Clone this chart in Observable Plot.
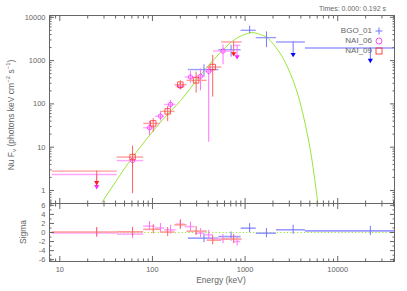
<!DOCTYPE html>
<html><head><meta charset="utf-8">
<script src="https://cdn.jsdelivr.net/npm/d3@7"></script>
<script src="https://cdn.jsdelivr.net/npm/@observablehq/plot@0.6"></script>
<style>
body{margin:0;background:#fff;font-family:"Liberation Sans",Arial,sans-serif;color:#666}
#wrap{position:relative;width:407px;height:291px;overflow:hidden;background:#fff}
#wrap svg.p{position:absolute;left:0}
.t{position:absolute;white-space:nowrap;color:#666;line-height:1}
.t svg{display:block}
</style></head><body><div id="wrap"></div>
<script>
// ---------- data ----------
// BGO_01
const bgoE   = [360, 706, 1120, 1700, 3300, 22500];
const bgoELo = [244, 520, 906, 1320, 2180, 4480];
const bgoEHi = [520, 906, 1320, 2180, 4480, 41000];
const bgoF   = [620, 1780, 5000, 3390, 2690, 1950];
const bgoFLo = [420, 1200, 4190, 1990, 1320, 965];
const bgoFHi = [800, 2250, 6220, 4600, 2690, 1950];
const bgoUL  = [0, 0, 0, 0, 1, 1];
const bgoRes = [-1.25, -0.9, 0.95, -0.15, 0.6, 0.35];
// NAI_06
const n06E   = [25, 61, 93, 122, 157, 200, 257, 330, 405, 578, 820];
const n06ELo = [8.3, 41.6, 80.5, 108, 135, 180, 225, 290, 370, 456, 752];
const n06EHi = [41.6, 80.5, 108, 135, 180, 225, 290, 370, 456, 752, 900];
const n06F   = [2.34, 4.9, 28.1, 52, 97, 256, 417, 433, 564, 1660, 2250];
const n06FLo = [1.17, 3.0, 18.7, 40, 78, 215, 300, 200, 13, 800, 1170];
const n06FHi = [2.34, 7.0, 39.4, 65, 120, 300, 560, 640, 710, 2300, 2250];
const n06UL  = [1, 0, 0, 0, 0, 0, 0, 0, 0, 0, 1];
const n06Res = [-0.1, -0.35, 1.4, 1.0, 0.6, 1.85, 1.3, -0.15, -0.5, -1.45, -2.0];
// NAI_09
const n09E   = [25, 61, 102, 146, 200, 296, 447, 753];
const n09ELo = [8.3, 41.6, 80.5, 122, 175, 236, 389, 560];
const n09EHi = [41.6, 80.5, 122, 175, 236, 389, 560, 930];
const n09F   = [2.8, 5.9, 35.4, 67, 278, 349, 710, 2690];
const n09FLo = [1.45, 0.84, 22, 39, 210, 178, 143, 1370];
const n09FHi = [2.8, 10.6, 45.5, 87.5, 340, 542, 1320, 2690];
const n09UL  = [1, 0, 0, 0, 0, 0, 0, 1];
const n09Res = [0.1, 0.15, 0.7, 0.1, 1.7, 0.3, -1.7, -1.45];
// model curve
const modelE = [28.6, 60.8, 127, 202, 389, 694, 889, 1190, 1462, 1726, 2400, 3080, 3640, 4290, 5070, 5730, 6070];
const modelF = [0.537, 5.79, 41.5, 120, 709, 2550, 3640, 4430, 4000, 3390, 1449, 501, 188, 49.5, 8.4, 1.43, 0.537];
// ticks
const xMajor = [10, 100, 1000, 10000];
const xMinor = [8, 9, 20, 30, 40, 50, 60, 70, 80, 90, 200, 300, 400, 500, 600, 700, 800, 900,
                2000, 3000, 4000, 5000, 6000, 7000, 8000, 9000, 20000, 30000, 40000];
const yMajor = [1, 10, 100, 1000, 10000];
const yMinor = [0.5, 0.6, 0.7, 0.8, 0.9, 2, 3, 4, 5, 6, 7, 8, 9, 20, 30, 40, 50, 60, 70, 80, 90,
                200, 300, 400, 500, 600, 700, 800, 900, 2000, 3000, 4000, 5000, 6000, 7000, 8000, 9000];
const rMajor = [-6, -4, -2, 0, 2, 4, 6];
const rMinor = [-5, -3, -1, 1, 3, 5];
const legendNames = ["BGO_01", "NAI_06", "NAI_09"];

// ---------- build tables ----------
function rows(E, ELo, EHi, F, FLo, FHi, UL, Res) {
  return E.map((e, i) => ({e, eLo: ELo[i], eHi: EHi[i], f: F[i], fLo: FLo[i], fHi: FHi[i], ul: UL[i], res: Res[i]}));
}
const dets = [
  {rows: rows(bgoE, bgoELo, bgoEHi, bgoF, bgoFLo, bgoFHi, bgoUL, bgoRes), light: "#9a9aff", mid: "#7474ff", dark: "#0000ff", sym: null},
  {rows: rows(n06E, n06ELo, n06EHi, n06F, n06FLo, n06FHi, n06UL, n06Res), light: "#ffa6ff", mid: "#ff70ff", dark: "#ff22ff", sym: "circle"},
  {rows: rows(n09E, n09ELo, n09EHi, n09F, n09FLo, n09FHi, n09UL, n09Res), light: "#ff9c9c", mid: "#ff6262", dark: "#ff1a1a", sym: "square"}
];
const model = modelE.map((e, i) => ({e, f: modelF[i]}));
const GREEN = "#9be637";
const AX = "#666";
const xScale = {type: "log", domain: [7.74, 41000]};

function tickMarks(axis, anchor, major, minor) {
  const A = axis === "x" ? Plot.axisX : Plot.axisY;
  const off = (len) => (anchor === "top" ? {dy: len} : anchor === "bottom" ? {dy: -len} : anchor === "left" ? {dx: len} : {dx: -len});
  return [
    A(major, {anchor, tickSize: 5, ...off(5), tickFormat: () => "", label: null, stroke: AX}),
    A(minor, {anchor, tickSize: 2.5, ...off(2.5), tickFormat: () => "", label: null, stroke: AX})
  ];
}

// ---------- top panel ----------
const topMarks = [];
for (const d of dets) {
  const det = d.rows.filter(r => !r.ul), ul = d.rows.filter(r => r.ul);
  topMarks.push(
    Plot.ruleY(d.rows, {y: "f", x1: "eLo", x2: "eHi", stroke: d.light, strokeWidth: 1.4}),
    Plot.ruleX(det, {x: "e", y1: "fLo", y2: "fHi", stroke: d.mid, strokeWidth: 1}),
    Plot.ruleX(ul, {x: "e", y1: "fLo", y2: "f", stroke: d.mid, strokeWidth: 1}),
    Plot.dot(ul, {x: "e", y: "fLo", symbol: "triangle", rotate: 180, r: 1.9, fill: d.dark, stroke: null, dy: -1})
  );
  if (d.sym) topMarks.push(Plot.dot(det, {x: "e", y: "f", symbol: d.sym, r: d.sym === "square" ? 3.1 : 2.2, stroke: d.dark, strokeWidth: 0.7, fill: "none"}));
}
const topPlot = Plot.plot({
  width: 407, height: 204, marginLeft: 49, marginRight: 13, marginTop: 15, marginBottom: 1,
  x: {...xScale, axis: null},
  y: {type: "log", domain: [0.5, 11000], axis: null},
  style: {fontFamily: "'Liberation Sans', Arial, sans-serif", fontSize: "7.5px", color: AX, background: "transparent", overflow: "visible"},
  marks: [
    Plot.line(model, {x: "e", y: "f", stroke: GREEN, strokeWidth: 1, curve: "catmull-rom", clip: true}),
    ...topMarks,
    Plot.axisY(yMajor, {anchor: "left", tickSize: 0, tickPadding: 4, tickFormat: d => String(d), label: null}),
    ...tickMarks("y", "left", yMajor, yMinor),
    ...tickMarks("y", "right", yMajor, yMinor),
    ...tickMarks("x", "top", xMajor, xMinor),
    ...tickMarks("x", "bottom", xMajor, xMinor),
    Plot.frame({stroke: AX})
  ]
});
topPlot.classList.add("p");
topPlot.style.top = "0px";

// ---------- residual panel ----------
const botMarks = [Plot.ruleY([0], {stroke: GREEN, strokeDasharray: "1.2,2.2", strokeWidth: 1.2})];
for (const d of dets) {
  botMarks.push(
    Plot.ruleY(d.rows, {y: "res", x1: "eLo", x2: "eHi", stroke: d.light, strokeWidth: 1.6}),
    Plot.ruleX(d.rows, {x: "e", y1: r => r.res - 1, y2: r => r.res + 1, stroke: d.mid, strokeWidth: 1})
  );
}
const botPlot = Plot.plot({
  width: 407, height: 89, marginLeft: 49, marginRight: 13, marginTop: 1, marginBottom: 30,
  x: {...xScale, axis: null},
  y: {domain: [-6.4, 6.4], axis: null},
  style: {fontFamily: "'Liberation Sans', Arial, sans-serif", fontSize: "7.5px", color: AX, background: "transparent", overflow: "visible"},
  marks: [
    ...botMarks,
    Plot.axisY(rMajor, {anchor: "left", tickSize: 0, tickPadding: 4, tickFormat: d => String(d), label: null}),
    Plot.axisX(xMajor, {anchor: "bottom", tickSize: 0, tickPadding: 5, tickFormat: d => String(d), label: null}),
    ...tickMarks("y", "left", rMajor, rMinor),
    ...tickMarks("y", "right", rMajor, rMinor),
    ...tickMarks("x", "top", xMajor, xMinor),
    ...tickMarks("x", "bottom", xMajor, xMinor),
    Plot.frame({stroke: AX})
  ]
});
botPlot.classList.add("p");
botPlot.style.top = "202px";

const wrap = document.getElementById("wrap");
wrap.append(topPlot, botPlot);

// ---------- texts ----------
function addText(html, css) {
  const el = document.createElement("div");
  el.className = "t";
  el.innerHTML = html;
  Object.assign(el.style, css);
  wrap.append(el);
  return el;
}
addText("Times: 0.000: 0.192 s", {fontSize: "7px", right: (407 - 386) + "px", top: "5px"});
addText("Energy (keV)", {fontSize: "8.5px", left: "221px", top: "276px", transform: "translateX(-50%)"});
addText("Sigma", {fontSize: "8.5px", left: "23px", top: "232px", transform: "translate(-50%,-50%) rotate(-90deg)"});
addText("Nu F<sub style='font-size:6px;vertical-align:-2px'>ν</sub> (photons keV cm<sup style='font-size:6px;vertical-align:4px'>−2</sup> s<sup style='font-size:6px;vertical-align:4px'>−1</sup>)",
  {fontSize: "8.5px", left: "11px", top: "115px", transform: "translate(-50%,-50%) rotate(-90deg)"});

// legend
const legSyms = [
  `<svg width="8" height="8"><path d="M4,0.5V7.5M0.5,4H7.5" stroke="${dets[0].mid}" stroke-width="1"/></svg>`,
  `<svg width="8" height="8"><circle cx="4" cy="4" r="3" fill="none" stroke="${dets[1].dark}" stroke-width="0.8"/></svg>`,
  `<svg width="8" height="8"><rect x="1" y="1" width="6" height="6" fill="none" stroke="${dets[2].dark}" stroke-width="0.8"/></svg>`
];
legendNames.forEach((name, i) => {
  addText(name, {fontSize: "8px", right: (407 - 372) + "px", top: (27 + i * 10) + "px"});
  addText(legSyms[i], {left: "375px", top: (27 + i * 10) + "px"});
});
</script></body></html>
